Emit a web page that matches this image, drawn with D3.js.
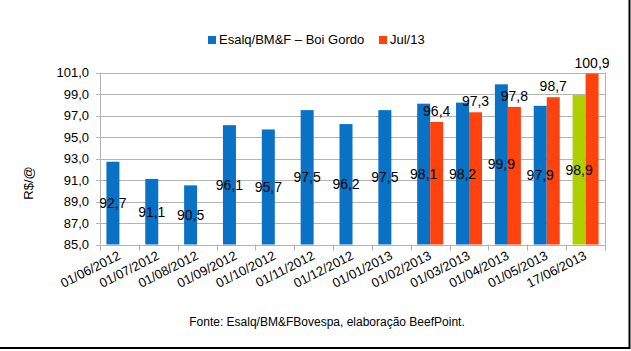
<!DOCTYPE html>
<html>
<head>
<meta charset="utf-8">
<script src="https://d3js.org/d3.v7.min.js"></script>
<style>
  body { margin: 0; background: #fff; }
  svg { display: block; font-family: "Liberation Sans", Arial, sans-serif; }
</style>
</head>
<body>
<svg id="chart" width="631" height="351"></svg>
<script>
const dates = ["01/06/2012", "01/07/2012", "01/08/2012", "01/09/2012", "01/10/2012", "01/11/2012",
  "01/12/2012", "01/01/2013", "01/02/2013", "01/03/2013", "01/04/2013", "01/05/2013", "17/06/2013"];
const boiGordo = [92.7, 91.1, 90.5, 96.1, 95.7, 97.5, 96.2, 97.5, 98.1, 98.2, 99.9, 97.9, 98.9];
const jul13 = [null, null, null, null, null, null, null, null, 96.4, 97.3, 97.8, 98.7, 100.9];
const yTicks = [85, 87, 89, 91, 93, 95, 97, 99, 101];
const seriesNames = ["Esalq/BM&F – Boi Gordo", "Jul/13"];

const blue = "#0a72c4", orange = "#ff420e", green = "#aecf00";
const fmt = v => d3.format(".1f")(v).replace(".", ",");

const svg = d3.select("#chart");
const margin = { left: 100, right: 26, top: 72.5, bottom: 106.5 };
const width = 631, height = 351;

const x = d3.scaleBand().domain(dates).range([margin.left, width - margin.right]);
const y = d3.scaleLinear().domain([85, 101]).range([height - margin.bottom, margin.top]);
const barW = 13;
const groupOff = (x.bandwidth() - 2 * barW) / 2;

// grid
svg.append("g")
  .selectAll("line")
  .data(yTicks)
  .join("line")
  .attr("x1", margin.left - 4).attr("x2", width - margin.right)
  .attr("y1", d => Math.round(y(d)) + 0.5).attr("y2", d => Math.round(y(d)) + 0.5)
  .attr("stroke", "#b3b3b3");

svg.append("line")
  .attr("x1", margin.left + 0.5).attr("x2", margin.left + 0.5)
  .attr("y1", y(101)).attr("y2", y(85))
  .attr("stroke", "#b3b3b3");
svg.append("line")
  .attr("x1", width - margin.right + 0.5).attr("x2", width - margin.right + 0.5)
  .attr("y1", y(101)).attr("y2", y(85))
  .attr("stroke", "#b3b3b3");

// x ticks at band boundaries
svg.append("g")
  .selectAll("line")
  .data(dates.concat([null]))
  .join("line")
  .attr("x1", (d, i) => Math.round(margin.left + i * x.step()) + 0.5)
  .attr("x2", (d, i) => Math.round(margin.left + i * x.step()) + 0.5)
  .attr("y1", y(85)).attr("y2", y(85) + 6)
  .attr("stroke", "#b3b3b3");

// y tick labels
svg.append("g")
  .selectAll("text")
  .data(yTicks)
  .join("text")
  .attr("x", 89).attr("y", d => y(d))
  .attr("dy", "0.36em")
  .attr("text-anchor", "end")
  .attr("font-size", 13)
  .text(fmt);

// y title
svg.append("text")
  .attr("transform", "translate(33,183) rotate(-90)")
  .attr("text-anchor", "middle")
  .attr("font-size", 13)
  .text("R$/@");

// x labels
svg.append("g")
  .selectAll("text")
  .data(dates)
  .join("text")
  .attr("transform", d => `translate(${x(d) + x.bandwidth() / 2 + 2},${y(85) + 14}) rotate(-27)`)
  .attr("text-anchor", "end")
  .attr("font-size", 13)
  .text(d => d);

// bars
const bx0 = d => x(d) + groupOff;
svg.append("g")
  .selectAll("rect")
  .data(dates.map((d, i) => ({ d, v: boiGordo[i], i })))
  .join("rect")
  .attr("x", p => bx0(p.d)).attr("width", barW)
  .attr("y", p => y(p.v)).attr("height", p => y(85) - y(p.v))
  .attr("fill", p => p.i === dates.length - 1 ? green : blue);

const redData = dates.map((d, i) => ({ d, v: jul13[i] })).filter(p => p.v != null);
svg.append("g")
  .selectAll("rect")
  .data(redData)
  .join("rect")
  .attr("x", p => bx0(p.d) + barW).attr("width", barW)
  .attr("y", p => y(p.v)).attr("height", p => y(85) - y(p.v))
  .attr("fill", orange);

// value labels
svg.append("g")
  .selectAll("text")
  .data(dates.map((d, i) => ({ d, v: boiGordo[i] })))
  .join("text")
  .attr("x", p => bx0(p.d) + barW / 2)
  .attr("y", p => (y(p.v) + y(85)) / 2)
  .attr("dy", "0.36em")
  .attr("text-anchor", "middle")
  .attr("font-size", 14)
  .text(p => fmt(p.v));

svg.append("g")
  .selectAll("text")
  .data(redData)
  .join("text")
  .attr("x", p => bx0(p.d) + barW * 1.5)
  .attr("y", p => y(p.v) - 11)
  .attr("dy", "0.36em")
  .attr("text-anchor", "middle")
  .attr("font-size", 14)
  .text(p => fmt(p.v));

// legend
const legend = svg.append("g");
const legX = [208, 379];
seriesNames.forEach((name, i) => {
  legend.append("rect")
    .attr("x", legX[i]).attr("y", 36).attr("width", 8).attr("height", 8)
    .attr("fill", i === 0 ? blue : orange);
  legend.append("text")
    .attr("x", legX[i] + 11).attr("y", 43.5)
    .attr("font-size", 13)
    .text(name);
});

// source
svg.append("text")
  .attr("x", 327).attr("y", 326)
  .attr("text-anchor", "middle")
  .attr("font-size", 12)
  .text("Fonte: Esalq/BM&FBovespa, elaboração BeefPoint.");

// frame
svg.append("line").attr("x1", 629.5).attr("x2", 629.5).attr("y1", 0).attr("y2", 349).attr("stroke", "#000").attr("stroke-width", 2);
svg.append("line").attr("x1", 0).attr("x2", 630).attr("y1", 348).attr("y2", 348).attr("stroke", "#000").attr("stroke-width", 2);
</script>
</body>
</html>
